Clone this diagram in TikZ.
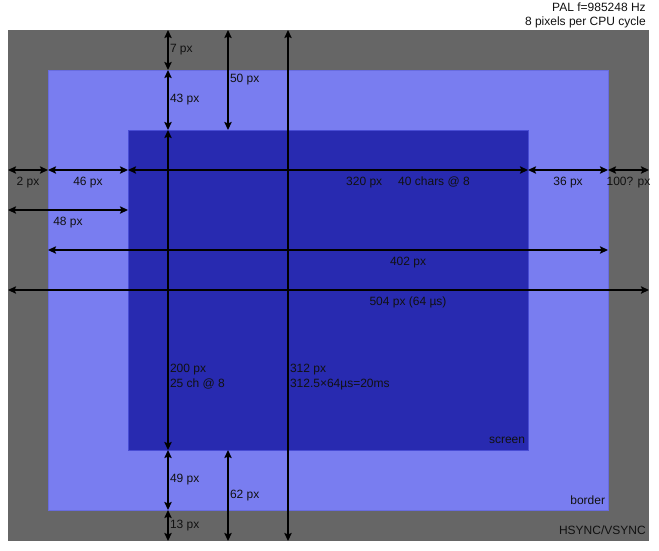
\documentclass[tikz,border=0pt]{standalone}
\usepackage{fontspec}
\setmainfont{Liberation Sans}
\usetikzlibrary{arrows.meta}
\definecolor{syncgray}{RGB}{102,102,102}
\definecolor{borderblue}{RGB}{121,125,240}
\definecolor{borderedge}{RGB}{104,108,222}
\definecolor{screenblue}{RGB}{40,42,176}
\definecolor{screenedge}{RGB}{72,76,212}
\definecolor{labelink}{RGB}{17,17,17}
\tikzset{
  %% ---- areas ----
  area/.style    = {line width=0.75pt},
  %% ---- dimension arrows ----
  dimarrow/.style = {{Stealth[length=6pt,width=5.5pt,inset=1pt]}-{Stealth[length=6pt,width=5.5pt,inset=1pt]},
                     line width=1pt, color=black},
  %% ---- labels ----
  vlabel/.style  = {anchor=west, inner sep=1pt, align=left, text=labelink,
                    font=\fontsize{9}{11.25}\selectfont},
  hlabel/.style  = {anchor=north, inner sep=0pt, yshift=-4.5pt, text=labelink,
                    font=\fontsize{9}{11.25}\selectfont},
  cornerlabel/.style = {anchor=east, inner sep=0pt, text=labelink,
                    font=\fontsize{9}{11.25}\selectfont},
}

\begin{document}
\begin{tikzpicture}[x=0.75pt, y=-0.75pt]
\useasboundingbox (0,0) rectangle (659,550);

% Corners of the three areas
\coordinate (sync-tl)   at (8,30);
\coordinate (sync-br)   at (649,541);
\coordinate (border-tl) at (48,70);
\coordinate (border-br) at (608,510);
\coordinate (screen-tl) at (128,130);
\coordinate (screen-br) at (528,450);

% Columns and rows of the dimension arrows
\coordinate (colA) at (168,0);
\coordinate (colB) at (228,0);
\coordinate (colC) at (288,0);
\coordinate (rowA) at (0,170);
\coordinate (rowB) at (0,210);
\coordinate (rowC) at (0,250);
\coordinate (rowD) at (0,290);

% Areas
\fill[syncgray] (sync-tl) rectangle (sync-br);
\filldraw[area, fill=borderblue, draw=borderedge] (border-tl) rectangle (border-br);
\filldraw[area, fill=screenblue, draw=screenedge] (screen-tl) rectangle (screen-br);

% Area names
\node[cornerlabel] (screenname) at ([xshift=-2pt, yshift=7.5pt]screen-br) {screen};
\node[cornerlabel] (bordername) at ([xshift=-2pt, yshift=7.5pt]border-br) {border};
\node[cornerlabel] (syncname)   at ([xshift=-2.25pt, yshift=8pt]sync-br)  {HSYNC/VSYNC};

% Timing note
\node[anchor=north east, inner sep=0pt, align=right, text=labelink,
      font=\fontsize{9}{10.5}\selectfont] (palnote) at (646,3)
  {PAL f=985248 Hz\\8 pixels per CPU cycle};

% Vertical arrows
\draw[dimarrow] (colA |- sync-tl)   -- node[vlabel] {7 px}  (colA |- border-tl);
\draw[dimarrow] (colA |- border-tl) -- node[vlabel] {43 px} (colA |- screen-tl);
\draw[dimarrow] (colA |- screen-tl) -- node[vlabel, pos=0.77] {200 px\\25 ch @ 8} (colA |- screen-br);
\draw[dimarrow] (colA |- screen-br) -- node[vlabel] {49 px} (colA |- border-br);
\draw[dimarrow] (colA |- border-br) -- node[vlabel] {13 px} (colA |- sync-br);
\draw[dimarrow] (colB |- sync-tl)   -- node[vlabel] {50 px} (colB |- screen-tl);
\draw[dimarrow] (colB |- screen-br) -- node[vlabel] {62 px} (colB |- sync-br);
\draw[dimarrow] (colC |- sync-tl)   -- node[vlabel, pos=0.68] {312 px\\312.5×64µs=20ms} (colC |- sync-br);

% Horizontal arrows
\draw[dimarrow] (sync-tl |- rowA)   -- node[hlabel] {2 px}   (border-tl |- rowA);
\draw[dimarrow] (border-tl |- rowA) -- node[hlabel] {46 px}  (screen-tl |- rowA);
\draw[dimarrow] (screen-tl |- rowA) -- node[hlabel, pos=0.7] {320 px\hspace{12pt}40 chars @ 8} (screen-br |- rowA);
\draw[dimarrow] (screen-br |- rowA) -- node[hlabel] {36 px}  (border-br |- rowA);
\draw[dimarrow] (border-br |- rowA) -- node[hlabel] {100? px} (sync-br |- rowA);
\draw[dimarrow] (sync-tl |- rowB)   -- node[hlabel] {48 px}  (screen-tl |- rowB);
\draw[dimarrow] (border-tl |- rowC) -- node[hlabel, pos=0.643] {402 px} (border-br |- rowC);
\draw[dimarrow] (sync-tl |- rowD)   -- node[hlabel, pos=0.624] {504 px (64 µs)} (sync-br |- rowD);

\end{tikzpicture}
\end{document}
